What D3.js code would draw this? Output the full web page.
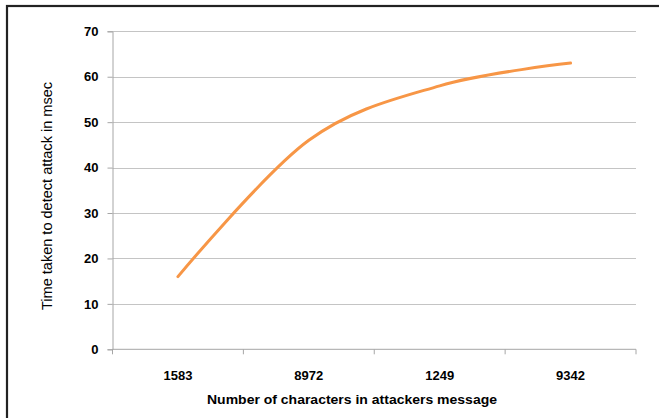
<!DOCTYPE html>
<html><head><meta charset="utf-8">
<script src="https://cdn.jsdelivr.net/npm/d3@7"></script>
<style>html,body{margin:0;padding:0;background:#fff;}svg{display:block;}</style>
</head><body>
<script>
const categories = ["1583", "8972", "1249", "9342"];
const values = [16, 46, 58, 63];
const yTicks = [0, 10, 20, 30, 40, 50, 60, 70];
const xTitle = "Number of characters in attackers message";
const yTitle = "Time taken to detect attack in msec";

(function () {
const W = 659, H = 418;
const svg = d3.select("body").append("svg").attr("width", W).attr("height", H);

// outer border (only top/left visible in reference)
svg.append("rect").attr("x", 7).attr("y", 6).attr("width", W + 20).attr("height", H + 20)
  .attr("fill", "none").attr("stroke", "#222").attr("stroke-width", 2.2);

const pl = 112.5, pr = 636, pt = 31.3, pb = 349.3;
const x = d3.scaleBand().domain(categories).range([pl, pr]);
const y = d3.scaleLinear().domain([0, 70]).range([pb, pt]);

// gridlines
svg.append("g").selectAll("line").data(yTicks.filter(d => d > 0)).join("line")
  .attr("x1", pl).attr("x2", pr)
  .attr("y1", d => Math.round(y(d)) + 0.5).attr("y2", d => Math.round(y(d)) + 0.5)
  .attr("stroke", "#c4c4c4").attr("stroke-width", 1.2);

// y axis
const yAxis = svg.append("g").attr("transform", `translate(${pl},0)`)
  .call(d3.axisLeft(y).tickValues(yTicks).tickSize(5).tickPadding(9));
yAxis.select(".domain").attr("stroke", "#a6a6a6");
yAxis.selectAll(".tick line").attr("stroke", "#a6a6a6");
yAxis.selectAll("text").attr("font-family", "Liberation Sans, Arial, sans-serif")
  .attr("font-weight", "bold").attr("font-size", 13).attr("fill", "#000");

// x axis
const xg = svg.append("g").attr("transform", `translate(0,${pb})`);
xg.append("line").attr("x1", pl).attr("x2", pr).attr("y1", 0).attr("y2", 0).attr("stroke", "#a6a6a6");
const bounds = categories.map(c => x(c)).concat([pr]);
xg.selectAll("line.tk").data(bounds).join("line").attr("class", "tk")
  .attr("x1", d => d).attr("x2", d => d).attr("y1", 0).attr("y2", 5).attr("stroke", "#a6a6a6");
xg.selectAll("text").data(categories).join("text")
  .attr("x", d => x(d) + x.bandwidth() / 2).attr("y", 31)
  .attr("text-anchor", "middle")
  .attr("font-family", "Liberation Sans, Arial, sans-serif")
  .attr("font-weight", "bold").attr("font-size", 13).attr("fill", "#000")
  .text(d => d);

// line
const line = d3.line()
  .x((d, i) => x(categories[i]) + x.bandwidth() / 2)
  .y(d => y(d))
  .curve(d3.curveCardinal.tension(0));
svg.append("path").datum(values).attr("d", line)
  .attr("fill", "none").attr("stroke", "#f79646").attr("stroke-width", 3)
  .attr("stroke-linecap", "round");

// titles
svg.append("text").attr("x", 352).attr("y", 404).attr("text-anchor", "middle")
  .attr("font-family", "Liberation Sans Narrow, Liberation Sans, Arial, sans-serif")
  .attr("font-weight", "bold").attr("font-size", 13.5).attr("fill", "#000")
  .attr("textLength", 290).attr("lengthAdjust", "spacingAndGlyphs")
  .text(xTitle);

svg.append("text").attr("transform", "translate(52,196) rotate(-90)")
  .attr("text-anchor", "middle")
  .attr("font-family", "Liberation Sans Narrow, Liberation Sans, Arial, sans-serif")
  .attr("font-size", 15).attr("fill", "#000")
  .attr("textLength", 228).attr("lengthAdjust", "spacingAndGlyphs")
  .text(yTitle);
})();
</script>
</body></html>
